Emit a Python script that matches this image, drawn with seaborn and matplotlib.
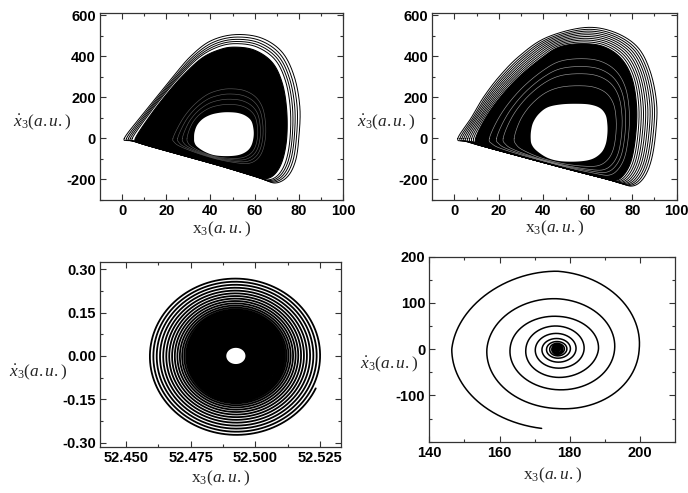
import numpy as np
import pandas as pd
import matplotlib
matplotlib.use("Agg")
import matplotlib.pyplot as plt
import seaborn as sns
from matplotlib.ticker import FixedLocator, FormatStrFormatter

# ---------------- data ----------------
# Panel 1 (top-left): outer trajectory envelope, edge of dense band, central hole
p1_outer_x = [1, 8, 15.5, 23, 31, 40, 51, 63, 72.5, 78, 80.5, 80, 78.5, 75, 69.5, 63, 45, 28, 12, 4]
p1_outer_y = [0, 100, 200, 300, 400, 475, 506, 490, 420, 300, 150, 0, -110, -185, -217, -195, -135, -84, -36, -10]
p1_dense_x = [6, 12, 19, 27, 36, 44, 51, 60, 68, 72.5, 74.5, 74.5, 72.5, 69, 64.5, 58, 45, 28, 13, 7.5]
p1_dense_y = [0, 100, 200, 300, 390, 432, 445, 430, 370, 270, 140, 0, -110, -175, -196, -176, -135, -84, -39, -18]
p1_hole_x = [32.6, 32.8, 34, 36.5, 40, 44, 48, 52.5, 56, 58.5, 59.5, 59.5, 58.5, 56.5, 53, 48, 42, 37.5, 34, 32.8]
p1_hole_y = [0, 30, 65, 95, 115, 125, 128, 124, 110, 85, 45, 5, -35, -62, -80, -86, -82, -65, -40, -20]
p1_loop_levels = [1.0, 0.8, 0.62, 0.45, 0.28]
p1_gap_levels = [0.12, 0.2, 0.28, 0.36]

# Panel 2 (top-right)
p2_outer_x = [1.5, 7.5, 13, 20, 29, 41, 58, 71, 82, 88, 91, 90.5, 88.5, 85, 80, 73, 52, 32, 14, 5]
p2_outer_y = [0, 100, 200, 300, 400, 490, 540, 522, 450, 330, 170, 20, -110, -195, -232, -211, -152, -94, -42, -14]
p2_dense_x = [9.5, 14, 20.5, 29, 39, 47, 57, 67, 75, 80, 82, 81.5, 79.5, 76, 72, 66, 52, 32, 16, 11]
p2_dense_y = [0, 100, 200, 300, 390, 445, 462, 448, 390, 290, 150, 10, -110, -180, -205, -190, -152, -94, -47, -25]
p2_hole_x = [34.3, 34.5, 35.5, 38, 42, 48, 55, 61, 65.5, 68, 68.8, 68.8, 68, 66, 62, 56, 48, 42, 37, 34.8]
p2_hole_y = [0, 40, 80, 120, 152, 166, 169, 165, 148, 115, 70, 20, -30, -70, -100, -112, -111, -95, -60, -30]
p2_loop_levels = [1.0, 0.88, 0.77, 0.66, 0.55, 0.44, 0.33, 0.22, 0.11]
p2_gap_levels = [0.3, 0.5, 0.62, 0.75]

# Panel 3 (bottom-left): spiral around a focus
p3_center = (52.4925, 0.0)
p3_radius = (0.0338, 0.275)
p3_turns = [1.0, 0.960, 0.921, 0.883, 0.846, 0.810, 0.776, 0.743, 0.711, 0.681,
            0.652, 0.625, 0.600, 0.577, 0.556, 0.537, 0.520, 0.505, 0.492, 0.481]
p3_core = 0.49
p3_hole = (0.0037, 0.028)
p3_tail_angle = -0.42

# Panel 4 (bottom-right): spiral decaying to a focus
p4_center = (176.5, 0.0)
p4_tail = (172.7, -173.5)
p4_left_x = [146.4, 156.4, 163.0, 167.5, 170.2, 172.1, 173.4, 174.3, 174.9, 175.3, 175.6]
p4_right_x = [199.8, 192.8, 188.2, 184.1, 181.8, 180.2, 179.2, 178.5, 178.0, 177.7, 177.5]
p4_top_y = [168.5, 109.0, 71.0, 50.0, 34.0, 23.0, 16.5, 12.5, 10.0, 8.5, 7.5]
p4_bottom_y = [-128.4, -87.7, -61.0, -41.0, -28.0, -19.5, -14.5, -11.2, -9.2, -8.0, -7.0]

# ---------------- helpers ----------------
def closed_curve(px, py, n=24):
    P = np.column_stack([px, py]).astype(float)
    N = len(P)
    t = np.linspace(0, 1, n, endpoint=False)[:, None]
    segs = []
    for i in range(N):
        p0, p1, p2, p3 = P[i - 1], P[i], P[(i + 1) % N], P[(i + 2) % N]
        segs.append(0.5 * (2 * p1 + (p2 - p0) * t + (2 * p0 - 5 * p1 + 4 * p2 - p3) * t ** 2
                           + (3 * p1 - p0 - 3 * p2 + p3) * t ** 3))
    segs.append(P[:1])
    c = np.vstack(segs)
    return c[:, 0], c[:, 1]


def blend(a, b, s):
    a = np.asarray(a, float)
    b = np.asarray(b, float)
    return a + s * (b - a)


def loops_frame(inner_x, inner_y, outer_x, outer_y, levels):
    rows = []
    for k, s in enumerate(levels):
        cx, cy = closed_curve(blend(inner_x, outer_x, s), blend(inner_y, outer_y, s))
        rows.append(pd.DataFrame({"x": cx, "y": cy, "loop": k}))
    return pd.concat(rows, ignore_index=True)


# ---------------- style ----------------
sns.set_theme(style="ticks")
plt.rcParams.update({
    "font.family": ["Liberation Sans", "DejaVu Sans"],
    "axes.unicode_minus": False,
    "mathtext.fontset": "custom",
    "mathtext.rm": "Liberation Serif",
    "mathtext.it": "Liberation Serif:italic",
    "mathtext.bf": "Liberation Serif:bold",
    "axes.edgecolor": "#333333",
    "axes.linewidth": 0.9,
    "xtick.color": "#333333",
    "ytick.color": "#333333",
    "xtick.labelcolor": "black",
    "ytick.labelcolor": "black",
})

fig = plt.figure(figsize=(6.88, 4.93), dpi=100)
ax1 = fig.add_axes([0.1453, 0.5943, 0.3532, 0.3787])
ax2 = fig.add_axes([0.6283, 0.5943, 0.3552, 0.3787])
ax3 = fig.add_axes([0.1453, 0.0927, 0.3499, 0.3765])
ax4 = fig.add_axes([0.6240, 0.1041, 0.3571, 0.3753])

YL = r"$\dot{x}_3(a.u.)$"
XL = r"$\mathrm{x}_3(a.u.)$"


def style_axis(ax):
    ax.tick_params(which="both", direction="in", top=True, right=True, width=0.8,
                   labelsize=10.5, pad=3)
    ax.tick_params(which="major", length=4)
    ax.tick_params(which="minor", length=2)
    for lab in ax.get_xticklabels() + ax.get_yticklabels():
        lab.set_fontweight("bold")
    for sp in ax.spines.values():
        sp.set_visible(True)


def attractor(ax, ox, oy, dx, dy, hx, hy, loop_levels, gap_levels, gap_alpha):
    fx, fy = closed_curve(dx, dy)
    ax.fill(fx, fy, color="black", lw=0.8, zorder=1)
    gaps = loops_frame(hx, hy, dx, dy, gap_levels)
    sns.lineplot(data=gaps, x="x", y="y", units="loop", estimator=None, sort=False,
                 color="white", lw=0.45, alpha=gap_alpha, ax=ax, legend=False, zorder=2)
    hxs, hys = closed_curve(hx, hy)
    ax.fill(hxs, hys, color="white", lw=0, zorder=3)
    loops = loops_frame(dx, dy, ox, oy, loop_levels)
    sns.lineplot(data=loops, x="x", y="y", units="loop", estimator=None, sort=False,
                 color="black", lw=0.7, ax=ax, legend=False, zorder=2)


# ---- panel 1 ----
attractor(ax1, p1_outer_x, p1_outer_y, p1_dense_x, p1_dense_y, p1_hole_x, p1_hole_y,
          p1_loop_levels, p1_gap_levels, 0.35)
# ---- panel 2 ----
attractor(ax2, p2_outer_x, p2_outer_y, p2_dense_x, p2_dense_y, p2_hole_x, p2_hole_y,
          p2_loop_levels, p2_gap_levels, 0.6)

for ax in (ax1, ax2):
    ax.set_xlim(-10, 100)
    ax.set_ylim(-300, 610)
    ax.xaxis.set_major_locator(FixedLocator([0, 20, 40, 60, 80, 100]))
    ax.xaxis.set_minor_locator(FixedLocator([10, 30, 50, 70, 90]))
    ax.yaxis.set_major_locator(FixedLocator([-200, 0, 200, 400, 600]))
    ax.yaxis.set_minor_locator(FixedLocator([-300, -100, 100, 300, 500]))

# ---- panel 3 ----
n_turn = len(p3_turns) - 1
theta = np.linspace(p3_tail_angle, p3_tail_angle - 2 * np.pi * n_turn, 400 * n_turn)
frac = np.interp(-(theta - p3_tail_angle), 2 * np.pi * np.arange(n_turn + 1), p3_turns)
sp3 = pd.DataFrame({"x": p3_center[0] + p3_radius[0] * frac * np.cos(theta),
                    "y": p3_center[1] + p3_radius[1] * frac * np.sin(theta)})
sns.lineplot(data=sp3, x="x", y="y", estimator=None, sort=False, color="black",
             lw=1.3, ax=ax3, legend=False)
tt = np.linspace(0, 2 * np.pi, 200)
ax3.fill(p3_center[0] + p3_radius[0] * p3_core * np.cos(tt),
         p3_center[1] + p3_radius[1] * p3_core * np.sin(tt), color="black", lw=0)
ax3.fill(p3_center[0] + p3_hole[0] * np.cos(tt), p3_center[1] + p3_hole[1] * np.sin(tt),
         color="white", lw=0, zorder=3)
ax3.set_xlim(52.440, 52.533)
ax3.set_ylim(-0.316, 0.326)
ax3.xaxis.set_major_locator(FixedLocator([52.450, 52.475, 52.500, 52.525]))
ax3.xaxis.set_minor_locator(FixedLocator([52.4625, 52.4875, 52.5125]))
ax3.xaxis.set_major_formatter(FormatStrFormatter("%.3f"))
ax3.yaxis.set_major_locator(FixedLocator([-0.30, -0.15, 0.0, 0.15, 0.30]))
ax3.yaxis.set_minor_locator(FixedLocator([-0.225, -0.075, 0.075, 0.225]))
ax3.yaxis.set_major_formatter(FormatStrFormatter("%.2f"))

# ---- panel 4 ----
cx4, cy4 = p4_center
rx_seq, ry_seq = [], []
for L, R in zip(p4_left_x, p4_right_x):
    rx_seq += [cx4 - L, R - cx4]
ry_seq.append(cy4 - p4_tail[1])
for T, B in zip(p4_top_y, p4_bottom_y):
    ry_seq += [T - cy4, cy4 - B]
rx_seq = np.array(rx_seq)
ry_seq = np.array(ry_seq)
th_start = -np.pi / 2 - 0.15
th_end = -np.pi - np.pi * (len(rx_seq) - 1)
th = np.linspace(th_start, th_end, 6000)
rx = np.exp(np.interp(-th, np.pi + np.pi * np.arange(len(rx_seq)), np.log(rx_seq)))
ry = np.exp(np.interp(-th, np.pi / 2 + np.pi * np.arange(len(ry_seq)), np.log(ry_seq)))
sp4 = pd.DataFrame({"x": cx4 + rx * np.cos(th), "y": cy4 + ry * np.sin(th)})
sns.lineplot(data=sp4, x="x", y="y", estimator=None, sort=False, color="black",
             lw=1.1, ax=ax4, legend=False)
ax4.fill(cx4 + rx_seq[-1] * np.cos(tt), cy4 + ry_seq[-1] * np.sin(tt), color="black", lw=0)
ax4.set_xlim(140, 210)
ax4.set_ylim(-200, 200)
ax4.xaxis.set_major_locator(FixedLocator([140, 160, 180, 200]))
ax4.xaxis.set_minor_locator(FixedLocator([150, 170, 190]))
ax4.yaxis.set_major_locator(FixedLocator([-100, 0, 100, 200]))
ax4.yaxis.set_minor_locator(FixedLocator([-200, -150, -50, 50, 150]))

# ---- labels ----
label_pos = {
    ax1: ((-0.237, 0.417), (0.5, -0.155)),
    ax2: ((-0.19, 0.417), (0.5, -0.15)),
    ax3: ((-0.255, 0.405), (0.5, -0.17)),
    ax4: ((-0.163, 0.42), (0.5, -0.18)),
}
for ax, (yp, xp) in label_pos.items():
    style_axis(ax)
    ax.set_ylabel(YL, rotation=0, fontsize=12.5, va="center", ha="center")
    ax.set_xlabel(XL, fontsize=12.5, va="center")
    ax.yaxis.set_label_coords(*yp)
    ax.xaxis.set_label_coords(*xp)

fig.savefig("out.png", dpi=100)
